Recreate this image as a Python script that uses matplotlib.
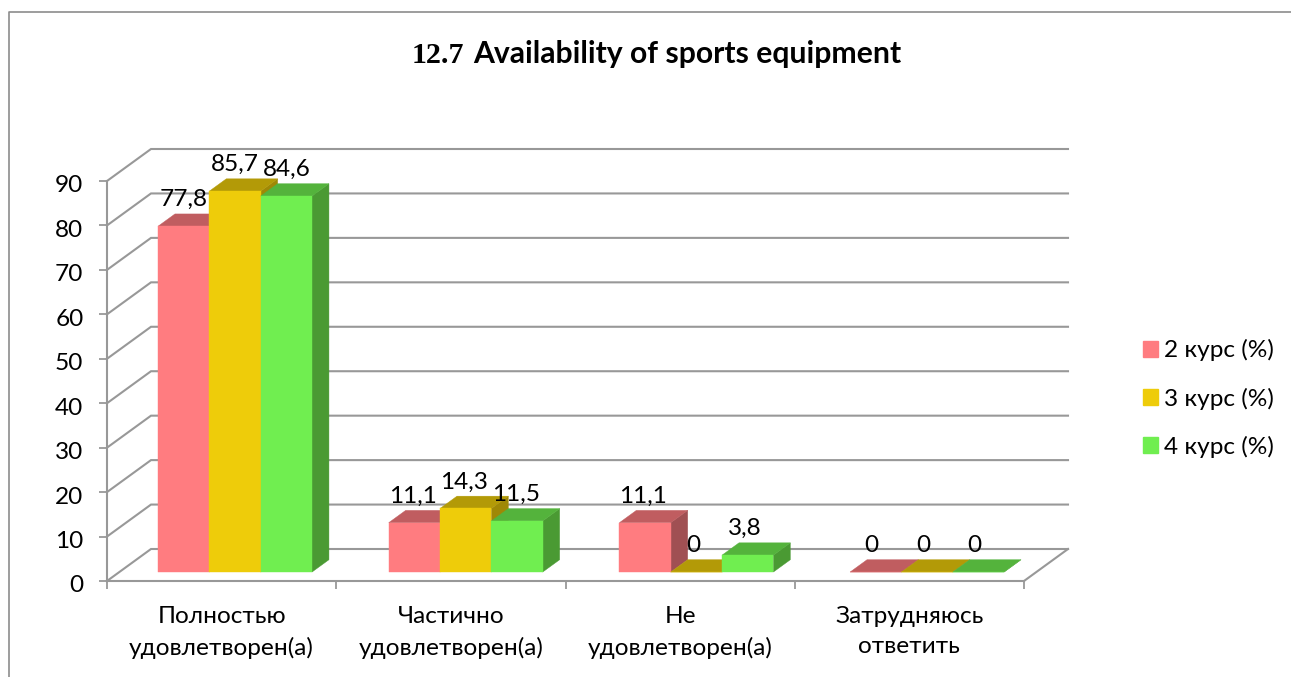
import matplotlib
matplotlib.use("Agg")
import matplotlib.pyplot as plt
from matplotlib.lines import Line2D
from matplotlib.patches import Patch, Polygon
from matplotlib.transforms import ScaledTranslation

plt.rcParams['font.family'] = ['Lato', 'Noto Sans', 'DejaVu Sans']

categories = ["Полностью\nудовлетворен(а)", "Частично\nудовлетворен(а)",
              "Не\nудовлетворен(а)", "Затрудняюсь\nответить"]
series_names = ["2 курс (%)", "3 курс (%)", "4 курс (%)"]
course2 = [77.8, 11.1, 11.1, 0]
course3 = [85.7, 14.3, 0, 0]
course4 = [84.6, 11.5, 3.8, 0]
value_labels = [["77,8", "11,1", "11,1", "0"],
                ["85,7", "14,3", "0", "0"],
                ["84,6", "11,5", "3,8", "0"]]
y_ticks = list(range(0, 100, 10))

FRONT = ["#FF7C80", "#EECC0A", "#70EE50"]
TOP = ["#C05D60", "#B39A07", "#54B33C"]
SIDE = ["#A05053", "#9F8806", "#4A9A33"]
GRID = "#989898"
W, H = 1291, 677
FS = 17.6

fig = plt.figure(figsize=(W / 100, H / 100), dpi=100, facecolor="white")
ax = fig.add_axes([107 / W, 1 - 581 / H, 917 / W, 400 / H])
ax.set_xlim(0, 4)
ax.set_ylim(0, 90)
ax.patch.set_visible(False)

DX, DY = 44 / 229.25, 32 / (400 / 90)


def proj(x, y, d):
    return (x + d * DX, y + d * DY)


# walls
for v in y_ticks:
    a, b, c = proj(0, v, 0), proj(0, v, 1), proj(4, v, 1)
    ax.plot([a[0], b[0], c[0]], [a[1], b[1], c[1]], color=GRID, lw=1.5,
            clip_on=False, zorder=1, solid_joinstyle="miter")
a, b = proj(4, 0, 0), proj(4, 0, 1)
ax.plot([a[0], b[0]], [a[1], b[1]], color=GRID, lw=1.5, clip_on=False, zorder=1)

# bars
D0, D1 = 0.28, 0.665
BASE, BW, STEP = 0.1688, 0.2239, 1.0063
all_series = [course2, course3, course4]
z = 3
for i in range(len(categories)):
    for j, vals in enumerate(all_series):
        v = vals[i]
        x0 = BASE + STEP * i + j * BW
        x1 = x0 + BW
        faces = [
            ([proj(x1, 0, D0), proj(x1, 0, D1), proj(x1, v, D1), proj(x1, v, D0)], SIDE[j]),
            ([proj(x0, v, D0), proj(x1, v, D0), proj(x1, v, D1), proj(x0, v, D1)], TOP[j]),
            ([proj(x0, 0, D0), proj(x1, 0, D0), proj(x1, v, D0), proj(x0, v, D0)], FRONT[j]),
        ]
        for pts, col in faces:
            ax.add_patch(Polygon(pts, closed=True, facecolor=col, edgecolor=col,
                                 lw=0.3, clip_on=False, zorder=z))
            z += 1

# value labels
for i in range(len(categories)):
    for j, vals in enumerate(all_series):
        lx = (184 - 107) / 229.25 + i + j * 51.2 / 229.25
        ly = proj(0, vals[i], D1)[1]
        ax.annotate(value_labels[j][i], (lx, ly), xytext=(0, 10.2),
                    textcoords="offset points", ha="center", va="center",
                    fontsize=FS, color="black", zorder=100, annotation_clip=False)

# axes
for s in ("top", "right"):
    ax.spines[s].set_visible(False)
for s in ("left", "bottom"):
    ax.spines[s].set_color(GRID)
    ax.spines[s].set_linewidth(1.5)
    ax.spines[s].set_zorder(2)
ax.set_yticks(y_ticks)
ax.tick_params(axis="y", length=6, width=1.3, color=GRID, pad=11, labelsize=FS)
shift = ScaledTranslation(0, -3 / 100, fig.dpi_scale_trans)
for lab in ax.get_yticklabels():
    lab.set_transform(lab.get_transform() + shift)
ax.set_xticks(range(5))
ax.set_xticklabels([])
ax.tick_params(axis="x", which="major", length=5.5, width=1.3, color=GRID)
ax.set_xticks([i + 0.5 for i in range(4)], minor=True)
ax.set_xticklabels(categories, minor=True, fontsize=FS, linespacing=1.55)
ax.tick_params(axis="x", which="minor", length=0, pad=18)

# legend
handles = [Patch(facecolor=c, edgecolor=c, label=n) for c, n in zip(FRONT, series_names)]
fig.legend(handles=handles, loc="center left", bbox_to_anchor=(1143 / W, 1 - 398.5 / H),
           frameon=False, fontsize=FS, handlelength=0.61, handleheight=0.61,
           handletextpad=0.25, labelspacing=1.07, borderpad=0, borderaxespad=0)

# title
fig.text(412 / W, 1 - 63 / H, "12.7", family="Liberation Serif", weight="bold",
         fontsize=21.6, color="black")
fig.text(473 / W, 1 - 63 / H, "Availability of sports equipment", weight="bold",
         fontsize=21.7, color="black")

# chart border
fig.add_artist(Line2D([9 / W, 9 / W, 1], [0, 1 - 11.5 / H, 1 - 11.5 / H],
                      color="#8c8c8c", lw=1.2))

fig.savefig("out.png", dpi=100)
